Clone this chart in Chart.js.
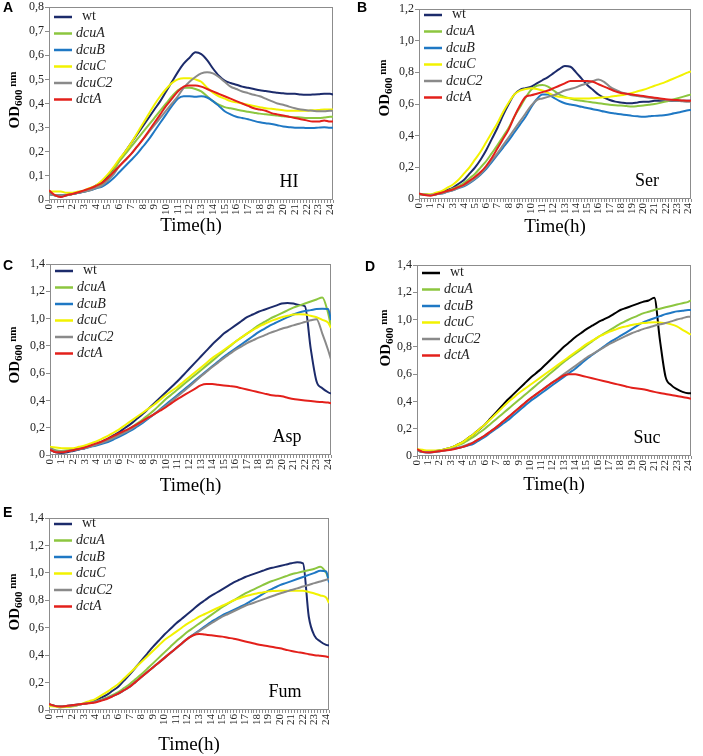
<!DOCTYPE html>
<html>
<head>
<meta charset="utf-8">
<script src="https://cdn.jsdelivr.net/npm/chart.js@4.4.1/dist/chart.umd.min.js"></script>
<style>
  body { margin: 0; background: #fff; }
  canvas { position: absolute; }
</style>
</head>
<body>
<canvas id="chartA" width="350" height="240" style="left:0;top:0"></canvas>
<canvas id="chartB" width="353" height="240" style="left:350px;top:0"></canvas>
<canvas id="chartC" width="350" height="262" style="left:0;top:240px"></canvas>
<canvas id="chartD" width="353" height="262" style="left:350px;top:240px"></canvas>
<canvas id="chartE" width="350" height="266" style="left:0;top:490px"></canvas>
<script>
// sampling times (h)
const hours = [0,0.5,1,1.5,2,2.5,3,3.5,4,4.5, 5,5.5,6,6.5,7,7.5,8,8.5,9,9.5,
  10,10.5,11,11.5,12,12.5,13,13.5,14,14.5, 15,15.5,16,16.5,17,17.5,18,18.5,19,19.5,
  20,20.5,21,21.5,22,22.5,23,23.5,24,24.25];
const strains = ['wt', 'dcuA', 'dcuB', 'dcuC', 'dcuC2', 'dctA'];

// A - HI
const hiWt = [0.03,0.02,0.015,0.02,0.025,0.03,0.035,0.045,0.06,0.075,
  0.10,0.13,0.165,0.20,0.235,0.27,0.305,0.34,0.375,0.41,
  0.45,0.49,0.53,0.565,0.59,0.612,0.605,0.58,0.545,0.515,
  0.495,0.485,0.478,0.47,0.465,0.46,0.455,0.452,0.448,0.445,
  0.442,0.44,0.44,0.437,0.436,0.437,0.438,0.44,0.44,0.437];
const hiDcuA = [0.025,0.02,0.02,0.02,0.025,0.03,0.035,0.042,0.05,0.065,
  0.09,0.12,0.16,0.19,0.22,0.25,0.28,0.31,0.34,0.37,
  0.40,0.43,0.455,0.465,0.465,0.46,0.45,0.43,0.41,0.395,
  0.385,0.38,0.375,0.37,0.366,0.362,0.358,0.355,0.352,0.35,
  0.347,0.345,0.343,0.342,0.34,0.34,0.34,0.342,0.345,0.345];
const hiDcuB = [0.025,0.02,0.02,0.022,0.025,0.03,0.035,0.04,0.048,0.055,
  0.07,0.09,0.115,0.14,0.165,0.19,0.22,0.25,0.285,0.32,
  0.355,0.39,0.42,0.43,0.43,0.428,0.43,0.425,0.41,0.39,
  0.368,0.355,0.345,0.34,0.335,0.328,0.322,0.318,0.315,0.31,
  0.305,0.302,0.3,0.3,0.298,0.298,0.3,0.302,0.3,0.3];
const hiDcuC = [0.035,0.035,0.035,0.03,0.03,0.035,0.04,0.05,0.06,0.08,
  0.105,0.135,0.17,0.20,0.235,0.275,0.315,0.355,0.395,0.43,
  0.46,0.485,0.50,0.505,0.505,0.50,0.49,0.465,0.445,0.43,
  0.42,0.41,0.405,0.40,0.395,0.39,0.385,0.38,0.378,0.375,
  0.372,0.37,0.37,0.37,0.37,0.372,0.373,0.375,0.375,0.375];
const hiDcuC2 = [0.025,0.02,0.02,0.02,0.025,0.03,0.035,0.04,0.05,0.06,
  0.08,0.105,0.14,0.165,0.19,0.22,0.25,0.28,0.31,0.34,
  0.37,0.40,0.43,0.465,0.49,0.51,0.525,0.53,0.525,0.51,
  0.49,0.47,0.46,0.45,0.443,0.436,0.43,0.42,0.41,0.40,
  0.395,0.387,0.38,0.375,0.372,0.37,0.368,0.368,0.37,0.37];
const hiDctA = [0.04,0.02,0.012,0.02,0.025,0.032,0.04,0.048,0.058,0.07,
  0.09,0.115,0.14,0.165,0.19,0.22,0.25,0.285,0.32,0.355,
  0.39,0.42,0.45,0.47,0.475,0.475,0.47,0.46,0.45,0.44,
  0.43,0.42,0.41,0.40,0.39,0.38,0.375,0.37,0.36,0.355,
  0.35,0.345,0.34,0.335,0.33,0.325,0.325,0.33,0.325,0.325];

// B - Ser
const serWt = [0.03,0.028,0.025,0.03,0.04,0.055,0.07,0.095,0.12,0.16,
  0.2,0.25,0.31,0.38,0.45,0.53,0.6,0.66,0.69,0.70,
  0.71,0.73,0.75,0.77,0.795,0.82,0.84,0.835,0.80,0.76,
  0.72,0.69,0.66,0.64,0.625,0.615,0.61,0.605,0.605,0.61,
  0.615,0.615,0.62,0.62,0.62,0.62,0.62,0.62,0.62,0.62];
const serDcuA = [0.03,0.028,0.025,0.03,0.04,0.05,0.065,0.08,0.1,0.13,
  0.16,0.2,0.24,0.29,0.34,0.395,0.45,0.52,0.58,0.64,
  0.69,0.715,0.72,0.71,0.685,0.66,0.645,0.635,0.625,0.62,
  0.615,0.61,0.605,0.6,0.595,0.592,0.59,0.587,0.585,0.587,
  0.59,0.595,0.6,0.607,0.615,0.625,0.635,0.645,0.655,0.66];
const serDcuB = [0.03,0.028,0.025,0.03,0.035,0.045,0.055,0.068,0.08,0.1,
  0.125,0.155,0.19,0.235,0.28,0.325,0.37,0.42,0.47,0.52,
  0.58,0.63,0.66,0.66,0.64,0.62,0.605,0.597,0.59,0.582,
  0.575,0.567,0.56,0.552,0.545,0.54,0.535,0.53,0.525,0.522,
  0.52,0.522,0.525,0.527,0.53,0.537,0.545,0.552,0.56,0.562];
const serDcuC = [0.03,0.03,0.03,0.04,0.05,0.07,0.09,0.12,0.16,0.2,
  0.25,0.3,0.36,0.42,0.48,0.55,0.61,0.66,0.685,0.695,
  0.70,0.695,0.685,0.67,0.655,0.645,0.64,0.637,0.635,0.635,
  0.635,0.637,0.64,0.642,0.645,0.65,0.655,0.662,0.67,0.68,
  0.69,0.702,0.715,0.727,0.74,0.755,0.77,0.785,0.80,0.805];
const serDcuC2 = [0.03,0.028,0.025,0.03,0.035,0.045,0.055,0.07,0.085,0.105,
  0.13,0.16,0.2,0.245,0.29,0.34,0.39,0.44,0.49,0.54,
  0.59,0.625,0.635,0.645,0.655,0.67,0.685,0.695,0.705,0.72,
  0.73,0.745,0.755,0.74,0.71,0.69,0.675,0.665,0.655,0.65,
  0.645,0.64,0.635,0.63,0.625,0.622,0.62,0.617,0.615,0.615];
const serDctA = [0.035,0.025,0.02,0.03,0.04,0.05,0.06,0.075,0.09,0.115,
  0.14,0.17,0.21,0.26,0.32,0.38,0.44,0.52,0.59,0.645,
  0.655,0.665,0.675,0.685,0.70,0.715,0.73,0.745,0.745,0.745,
  0.745,0.74,0.725,0.71,0.695,0.68,0.67,0.665,0.66,0.655,
  0.65,0.645,0.64,0.635,0.63,0.627,0.625,0.622,0.62,0.62];

// C - Asp
const aspWt = [0.04,0.02,0.015,0.02,0.03,0.04,0.05,0.065,0.08,0.1,
  0.12,0.145,0.17,0.2,0.23,0.265,0.3,0.34,0.38,0.42,
  0.46,0.5,0.54,0.585,0.63,0.675,0.72,0.765,0.81,0.85,
  0.89,0.92,0.95,0.98,1.01,1.03,1.05,1.065,1.08,1.095,
  1.11,1.115,1.11,1.1,1.09,0.78,0.54,0.49,0.46,0.45];
const aspDcuA = [0.05,0.035,0.03,0.035,0.04,0.047,0.055,0.067,0.08,0.095,
  0.11,0.13,0.15,0.175,0.2,0.23,0.26,0.295,0.33,0.37,
  0.41,0.445,0.48,0.515,0.55,0.585,0.62,0.655,0.69,0.725,
  0.76,0.795,0.83,0.86,0.89,0.92,0.95,0.975,1.0,1.02,
  1.04,1.06,1.08,1.095,1.11,1.125,1.14,1.155,1.04,0.94];
const aspDcuB = [0.05,0.025,0.02,0.027,0.035,0.042,0.05,0.06,0.07,0.082,
  0.095,0.115,0.135,0.157,0.18,0.207,0.235,0.267,0.3,0.335,
  0.37,0.405,0.44,0.475,0.51,0.545,0.58,0.615,0.65,0.685,
  0.72,0.75,0.78,0.81,0.84,0.87,0.9,0.925,0.95,0.97,
  0.99,1.01,1.03,1.045,1.055,1.062,1.07,1.072,1.07,0.99];
const aspDcuC = [0.06,0.055,0.05,0.05,0.05,0.06,0.07,0.085,0.1,0.12,
  0.14,0.165,0.19,0.22,0.25,0.28,0.31,0.34,0.37,0.405,
  0.44,0.47,0.5,0.535,0.57,0.605,0.64,0.675,0.71,0.74,
  0.77,0.8,0.83,0.86,0.89,0.915,0.94,0.96,0.98,0.995,
  1.01,1.02,1.03,1.032,1.03,1.02,1.01,0.99,0.97,0.93];
const aspDcuC2 = [0.05,0.03,0.025,0.03,0.035,0.042,0.05,0.062,0.075,0.09,
  0.105,0.125,0.145,0.167,0.19,0.217,0.245,0.272,0.3,0.33,
  0.36,0.395,0.43,0.465,0.5,0.537,0.575,0.61,0.645,0.677,
  0.71,0.74,0.77,0.795,0.82,0.84,0.86,0.877,0.895,0.91,
  0.925,0.937,0.95,0.962,0.975,0.987,0.995,0.89,0.77,0.7];
const aspDctA = [0.04,0.02,0.02,0.027,0.035,0.045,0.055,0.07,0.085,0.1,
  0.12,0.14,0.16,0.18,0.2,0.225,0.25,0.275,0.3,0.325,
  0.35,0.38,0.41,0.435,0.46,0.485,0.51,0.52,0.52,0.515,
  0.51,0.505,0.5,0.49,0.48,0.47,0.46,0.45,0.44,0.435,
  0.43,0.42,0.41,0.405,0.4,0.395,0.39,0.388,0.385,0.38];

// D - Suc
const sucWt = [0.05,0.03,0.03,0.035,0.04,0.05,0.06,0.08,0.1,0.13,
  0.16,0.195,0.23,0.275,0.32,0.365,0.41,0.45,0.49,0.53,
  0.57,0.605,0.64,0.68,0.72,0.76,0.8,0.835,0.87,0.9,
  0.93,0.955,0.98,1.0,1.02,1.045,1.07,1.085,1.1,1.115,
  1.13,1.14,1.16,0.85,0.58,0.52,0.49,0.47,0.46,0.46];
const sucDcuA = [0.04,0.03,0.03,0.035,0.04,0.05,0.06,0.075,0.09,0.115,
  0.14,0.17,0.2,0.235,0.27,0.305,0.34,0.375,0.41,0.445,
  0.48,0.515,0.55,0.585,0.62,0.655,0.69,0.72,0.75,0.78,
  0.81,0.84,0.87,0.895,0.92,0.945,0.97,0.99,1.01,1.027,
  1.045,1.057,1.07,1.08,1.09,1.1,1.11,1.12,1.13,1.14];
const sucDcuB = [0.04,0.03,0.025,0.03,0.035,0.042,0.05,0.057,0.065,0.077,
  0.09,0.115,0.14,0.17,0.2,0.23,0.26,0.295,0.33,0.365,
  0.4,0.43,0.46,0.49,0.52,0.55,0.58,0.61,0.64,0.675,
  0.71,0.74,0.77,0.8,0.83,0.855,0.88,0.905,0.93,0.955,
  0.98,0.995,1.01,1.025,1.04,1.05,1.06,1.065,1.07,1.07];
const sucDcuC = [0.05,0.045,0.04,0.04,0.04,0.05,0.06,0.08,0.1,0.13,
  0.16,0.195,0.23,0.27,0.31,0.35,0.39,0.425,0.46,0.49,
  0.52,0.55,0.58,0.61,0.64,0.67,0.7,0.73,0.76,0.79,
  0.82,0.845,0.87,0.89,0.91,0.925,0.94,0.95,0.96,0.968,
  0.975,0.978,0.98,0.978,0.975,0.965,0.95,0.925,0.9,0.89];
const sucDcuC2 = [0.04,0.03,0.03,0.032,0.035,0.042,0.05,0.06,0.07,0.085,
  0.1,0.125,0.15,0.18,0.21,0.245,0.28,0.315,0.35,0.385,
  0.42,0.45,0.48,0.51,0.54,0.57,0.6,0.63,0.66,0.69,
  0.72,0.745,0.77,0.795,0.82,0.84,0.86,0.88,0.9,0.915,
  0.93,0.942,0.955,0.965,0.975,0.987,1.0,1.01,1.02,1.02];
const sucDctA = [0.05,0.03,0.025,0.03,0.035,0.04,0.045,0.055,0.065,0.08,
  0.1,0.125,0.15,0.18,0.21,0.245,0.28,0.315,0.35,0.385,
  0.42,0.45,0.48,0.51,0.54,0.565,0.59,0.6,0.6,0.59,
  0.58,0.57,0.56,0.55,0.54,0.53,0.52,0.51,0.5,0.495,
  0.49,0.48,0.47,0.462,0.455,0.447,0.44,0.432,0.425,0.42];

// E - Fum
const fumWt = [0.04,0.03,0.02,0.03,0.035,0.04,0.045,0.055,0.07,0.09,
  0.11,0.14,0.17,0.215,0.26,0.31,0.36,0.41,0.46,0.505,
  0.55,0.59,0.63,0.665,0.7,0.735,0.77,0.8,0.83,0.855,
  0.88,0.905,0.93,0.95,0.97,0.985,1.0,1.015,1.03,1.04,
  1.05,1.06,1.07,1.078,1.07,0.68,0.54,0.5,0.475,0.47];
const fumDcuA = [0.04,0.03,0.025,0.027,0.03,0.037,0.045,0.052,0.06,0.075,
  0.09,0.11,0.13,0.16,0.19,0.225,0.26,0.3,0.34,0.38,
  0.42,0.46,0.5,0.535,0.57,0.6,0.63,0.66,0.69,0.72,
  0.75,0.775,0.8,0.825,0.85,0.87,0.89,0.91,0.93,0.945,
  0.96,0.975,0.99,1.0,1.01,1.02,1.03,1.045,1.0,0.95];
const fumDcuB = [0.04,0.03,0.025,0.027,0.03,0.037,0.045,0.052,0.06,0.072,
  0.085,0.102,0.12,0.145,0.17,0.205,0.24,0.275,0.31,0.345,
  0.38,0.415,0.45,0.485,0.52,0.55,0.58,0.61,0.64,0.665,
  0.69,0.71,0.73,0.75,0.77,0.795,0.82,0.845,0.87,0.89,
  0.91,0.925,0.94,0.955,0.97,0.985,1.0,1.015,1.01,0.93];
const fumDcuC = [0.03,0.025,0.02,0.022,0.025,0.037,0.05,0.065,0.08,0.105,
  0.13,0.16,0.19,0.23,0.27,0.31,0.35,0.39,0.43,0.47,
  0.51,0.54,0.57,0.6,0.63,0.655,0.68,0.7,0.72,0.74,
  0.76,0.78,0.8,0.815,0.83,0.84,0.85,0.857,0.865,0.868,
  0.87,0.87,0.87,0.87,0.87,0.86,0.85,0.835,0.82,0.78];
const fumDcuC2 = [0.04,0.03,0.025,0.027,0.03,0.037,0.045,0.052,0.06,0.072,
  0.085,0.102,0.12,0.145,0.17,0.205,0.24,0.275,0.31,0.345,
  0.38,0.415,0.45,0.485,0.52,0.548,0.575,0.603,0.63,0.655,
  0.68,0.7,0.72,0.74,0.76,0.775,0.79,0.805,0.82,0.835,
  0.85,0.862,0.875,0.887,0.9,0.912,0.925,0.937,0.95,0.955];
const fumDctA = [0.045,0.03,0.025,0.03,0.035,0.04,0.045,0.05,0.055,0.067,
  0.08,0.1,0.12,0.145,0.17,0.205,0.24,0.275,0.31,0.345,
  0.38,0.415,0.45,0.485,0.52,0.545,0.555,0.55,0.545,0.54,
  0.535,0.527,0.52,0.51,0.5,0.49,0.48,0.472,0.465,0.457,
  0.45,0.44,0.43,0.422,0.415,0.407,0.4,0.395,0.39,0.385];

const strainColors = ['#1c2b6b', '#8cc63f', '#1f78c4', '#f2f200', '#8a8a8a', '#e3201b'];
const serif = '"Liberation Serif", "Times New Roman", serif';

const panels = [
  { id: 'chartA', letter: 'A', medium: 'HI', yMax: 0.8, yStep: 0.1,
    series: [hiWt, hiDcuA, hiDcuB, hiDcuC, hiDcuC2, hiDctA],
    box: {left: 49, right: 333, top: 6, bottom: 200}, letterPos: [3, 8], odPos: [15, 100], timeY: 226, legendTop: 10 },
  { id: 'chartB', letter: 'B', medium: 'Ser', yMax: 1.2, yStep: 0.2,
    series: [serWt, serDcuA, serDcuB, serDcuC, serDcuC2, serDctA],
    box: {left: 69, right: 349, top: 9, bottom: 199}, letterPos: [7, 8], odPos: [35, 88], timeY: 227, legendTop: 6 },
  { id: 'chartC', letter: 'C', medium: 'Asp', yMax: 1.4, yStep: 0.2,
    series: [aspWt, aspDcuA, aspDcuB, aspDcuC, aspDcuC2, aspDctA],
    box: {left: 50, right: 331, top: 24, bottom: 215}, letterPos: [3, 26], odPos: [15, 115], timeY: 246, legendTop: 7 },
  { id: 'chartD', letter: 'D', medium: 'Suc', yMax: 1.4, yStep: 0.2, wtColor: '#000000',
    series: [sucWt, sucDcuA, sucDcuB, sucDcuC, sucDcuC2, sucDctA],
    box: {left: 67, right: 348, top: 25, bottom: 216}, letterPos: [15, 27], odPos: [36, 98], timeY: 245, legendTop: 8 },
  { id: 'chartE', letter: 'E', medium: 'Fum', yMax: 1.4, yStep: 0.2,
    series: [fumWt, fumDcuA, fumDcuB, fumDcuC, fumDcuC2, fumDctA],
    box: {left: 49, right: 329, top: 28, bottom: 220}, letterPos: [3, 23], odPos: [15, 112], timeY: 255, legendTop: 6 }
];

function drawOdTitle(ctx, x, y) {
  const parts = [
    ['OD', 'bold 15px ' + serif, 0],
    ['600', 'bold 11px ' + serif, 4],
    [' nm', 'bold 11px ' + serif, -2]
  ];
  ctx.save();
  ctx.translate(x, y);
  ctx.rotate(-Math.PI / 2);
  ctx.textBaseline = 'middle';
  ctx.fillStyle = '#000';
  let total = 0;
  parts.forEach(p => { ctx.font = p[1]; total += ctx.measureText(p[0]).width; });
  let cx = -total / 2;
  parts.forEach(p => {
    ctx.font = p[1];
    ctx.fillText(p[0], cx, p[2]);
    cx += ctx.measureText(p[0]).width;
  });
  ctx.restore();
}

const panelDecor = {
  id: 'panelDecor',
  beforeDatasetsDraw(chart) {
    const {ctx, chartArea: a} = chart;
    ctx.save();
    ctx.strokeStyle = '#8c8c8c';
    ctx.lineWidth = 1;
    ctx.strokeRect(Math.round(a.left) + 0.5, Math.round(a.top) + 0.5,
      Math.round(a.right - a.left) - 1, Math.round(a.bottom - a.top) - 1);
    ctx.restore();
  },
  afterDraw(chart, args, opts) {
    const {ctx, chartArea: a} = chart;
    ctx.save();
    ctx.fillStyle = '#000';

    // panel letter
    ctx.font = 'bold 14px "Liberation Sans", Arial, sans-serif';
    ctx.textAlign = 'left';
    ctx.textBaseline = 'middle';
    ctx.fillText(opts.letter, opts.letterPos[0], opts.letterPos[1]);

    // axis titles
    drawOdTitle(ctx, opts.odPos[0], opts.odPos[1]);
    ctx.font = '19px ' + serif;
    ctx.textAlign = 'center';
    ctx.fillText('Time(h)', (a.left + a.right) / 2, opts.timeY);

    // medium label
    ctx.font = '18px ' + serif;
    ctx.fillText(opts.medium, a.right - 44, a.bottom - 18);

    // legend inside plot
    chart.data.datasets.forEach((ds, i) => {
      const y = a.top + opts.legendTop + i * 16.5;
      ctx.strokeStyle = ds.borderColor;
      ctx.lineWidth = 2.5;
      ctx.beginPath();
      ctx.moveTo(a.left + 5, y);
      ctx.lineTo(a.left + 23, y);
      ctx.stroke();
      ctx.textAlign = 'left';
      ctx.fillStyle = '#222';
      if (ds.label === 'wt') {
        ctx.font = '14px ' + serif;
        ctx.fillText(ds.label, a.left + 33, y - 1);
      } else {
        ctx.font = 'italic 14px ' + serif;
        ctx.fillText(ds.label, a.left + 27, y);
      }
    });
    ctx.restore();
  }
};

panels.forEach(p => {
  const canvas = document.getElementById(p.id);
  const w = canvas.width, h = canvas.height;
  const datasets = p.series.map((vals, i) => ({
    label: strains[i],
    data: vals,
    borderColor: (i === 0 && p.wtColor) ? p.wtColor : strainColors[i],
    borderWidth: 2,
    pointRadius: 0,
    cubicInterpolationMode: 'monotone',
    order: strains.length - i
  }));

  new Chart(canvas, {
    type: 'line',
    data: { labels: hours, datasets: datasets },
    options: {
      responsive: false,
      animation: false,
      layout: { padding: { left: 0, top: p.box.top, right: w - p.box.right, bottom: 0 } },
      plugins: {
        legend: { display: false },
        tooltip: { enabled: false },
        panelDecor: p
      },
      scales: {
        x: {
          type: 'linear',
          min: 0,
          max: 24.25,
          afterFit: s => { s.height = h - p.box.bottom; },
          border: { display: false },
          grid: { drawOnChartArea: false, tickLength: 3, color: '#8c8c8c' },
          ticks: {
            stepSize: 0.25,
            autoSkip: false,
            minRotation: 90,
            maxRotation: 90,
            padding: 1,
            color: '#222',
            font: { family: serif, size: 11, lineHeight: 1 },
            callback: v => Number.isInteger(v) ? String(v) : ''
          }
        },
        y: {
          min: 0,
          max: p.yMax,
          afterFit: s => { s.width = p.box.left; },
          border: { display: false },
          grid: { drawOnChartArea: false, tickLength: 4, color: '#8c8c8c' },
          ticks: {
            stepSize: p.yStep,
            padding: 1,
            color: '#222',
            font: { family: serif, size: 12, lineHeight: 1 },
            callback: v => v === 0 ? '0' : v.toFixed(1).replace('.', ',')
          }
        }
      }
    },
    plugins: [panelDecor]
  });
});
</script>
</body>
</html>
